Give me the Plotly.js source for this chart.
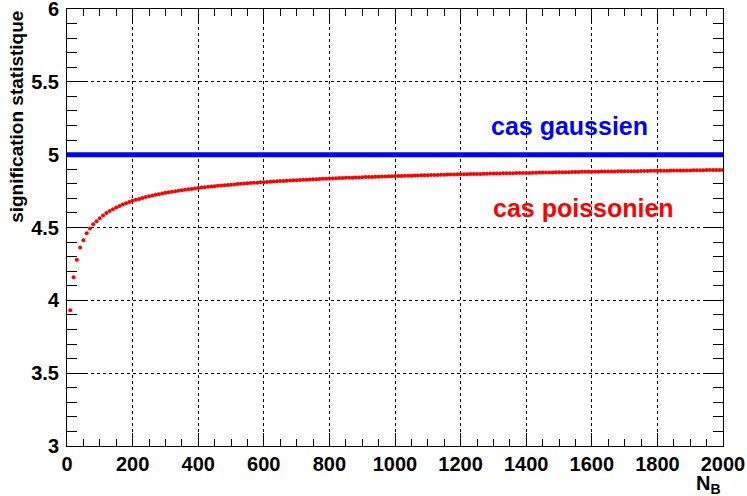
<!DOCTYPE html>
<html>
<head>
<meta charset="utf-8">
<script src="https://cdn.plot.ly/plotly-3.0.1.min.js"></script>
<style>html,body{margin:0;padding:0;background:#fff;}#chart{width:747px;height:496px;}</style>
</head>
<body>
<div id="chart"></div>
<script>
// Background count N_B for each red point
const nB = [
  10,20,30,40,50,60,70,80,90,100,110,120,130,140,150,160,170,180,190,200,
  210,220,230,240,250,260,270,280,290,300,310,320,330,340,350,360,370,380,390,400,
  410,420,430,440,450,460,470,480,490,500,510,520,530,540,550,560,570,580,590,600,
  610,620,630,640,650,660,670,680,690,700,710,720,730,740,750,760,770,780,790,800,
  810,820,830,840,850,860,870,880,890,900,910,920,930,940,950,960,970,980,990,1000,
  1010,1020,1030,1040,1050,1060,1070,1080,1090,1100,1110,1120,1130,1140,1150,1160,1170,1180,1190,1200,
  1210,1220,1230,1240,1250,1260,1270,1280,1290,1300,1310,1320,1330,1340,1350,1360,1370,1380,1390,1400,
  1410,1420,1430,1440,1450,1460,1470,1480,1490,1500,1510,1520,1530,1540,1550,1560,1570,1580,1590,1600,
  1610,1620,1630,1640,1650,1660,1670,1680,1690,1700,1710,1720,1730,1740,1750,1760,1770,1780,1790,1800,
  1810,1820,1830,1840,1850,1860,1870,1880,1890,1900,1910,1920,1930,1940,1950,1960,1970,1980,1990,2000
];
// Poisson ("cas poissonien") significance
const zPoisson = [
  3.932,4.158,4.278,4.362,4.413,4.460,4.493,4.522,4.543,4.564,4.582,4.599,4.613,4.626,4.637,4.648,4.658,4.667,4.675,4.683,
  4.690,4.696,4.703,4.709,4.714,4.719,4.724,4.729,4.733,4.738,4.742,4.746,4.749,4.753,4.756,4.759,4.762,4.765,4.768,4.771,
  4.774,4.776,4.779,4.781,4.784,4.786,4.788,4.790,4.792,4.794,4.796,4.798,4.800,4.802,4.803,4.805,4.807,4.808,4.810,4.811,
  4.813,4.814,4.816,4.817,4.819,4.820,4.821,4.822,4.824,4.825,4.826,4.827,4.828,4.829,4.831,4.832,4.833,4.834,4.835,4.836,
  4.837,4.838,4.839,4.840,4.841,4.841,4.842,4.843,4.844,4.845,4.846,4.847,4.847,4.848,4.849,4.850,4.850,4.851,4.852,4.853,
  4.853,4.854,4.855,4.855,4.856,4.857,4.857,4.858,4.859,4.859,4.860,4.861,4.861,4.862,4.862,4.863,4.864,4.864,4.865,4.865,
  4.866,4.866,4.867,4.867,4.868,4.868,4.869,4.869,4.870,4.870,4.871,4.871,4.872,4.872,4.873,4.873,4.874,4.874,4.875,4.875,
  4.875,4.876,4.876,4.877,4.877,4.877,4.878,4.878,4.879,4.879,4.879,4.880,4.880,4.881,4.881,4.881,4.882,4.882,4.882,4.883,
  4.883,4.883,4.884,4.884,4.885,4.885,4.885,4.886,4.886,4.886,4.887,4.887,4.887,4.887,4.888,4.888,4.888,4.889,4.889,4.889,
  4.890,4.890,4.890,4.891,4.891,4.891,4.891,4.892,4.892,4.892,4.893,4.893,4.893,4.893,4.894,4.894,4.894,4.894,4.895,4.895
];
// Gaussian ("cas gaussien") significance: constant line
const gaussX = [0, 2000];
const gaussY = [5, 5];

const xTicks = [0,200,400,600,800,1000,1200,1400,1600,1800,2000];
const yTicks = [3,3.5,4,4.5,5,5.5,6];
const yTickText = ['3','3.5','4','4.5','5','5.5','6'];

const labelGauss = 'cas gaussien';
const labelPoisson = 'cas poissonien';
const yTitle = 'signification statistique';
const xTitle = 'N<sub>B</sub>';

const FONT = 'Liberation Sans, Arial, Helvetica, sans-serif';

const traces = [
  {x: gaussX, y: gaussY, mode: 'lines', line: {color: '#0000ff', width: 5}, hoverinfo: 'skip', showlegend: false, cliponaxis: false},
  {x: nB, y: zPoisson, mode: 'markers', marker: {color: '#ff0000', size: 4, symbol: 'circle', line: {width: 0}}, showlegend: false}
];

const axisCommon = {
  showline: true, linecolor: '#000', linewidth: 1, mirror: 'ticks',
  ticks: 'inside', tickcolor: '#000', tickwidth: 1,
  showgrid: true, gridcolor: '#000', gridwidth: 1, griddash: 'dot',
  zeroline: false, layer: 'below traces',
  ticklabeloverflow: 'allow',
  tickfont: {family: FONT, size: 20, color: '#000', weight: 'bold'}
};

const layout = {
  width: 747, height: 496,
  margin: {l: 67, r: 24, t: 9, b: 50, pad: 0},
  paper_bgcolor: '#fff', plot_bgcolor: '#fff',
  showlegend: false,
  xaxis: Object.assign({}, axisCommon, {
    range: [0, 2000], tickmode: 'array', tickvals: xTicks, ticktext: xTicks.map(String),
    ticklen: 13,
    minor: {dtick: 50, ticklen: 7, tickcolor: '#000', ticks: 'inside', showgrid: false}
  }),
  yaxis: Object.assign({}, axisCommon, {
    range: [3, 6], tickmode: 'array', tickvals: yTicks, ticktext: yTickText,
    ticklen: 20, ticklabelstandoff: 3,
    minor: {dtick: 0.1, ticklen: 10, tickcolor: '#000', ticks: 'inside', showgrid: false}
  }),
  annotations: [
    {text: labelGauss, xref: 'x', yref: 'y', x: 1531, y: 5.195, showarrow: false,
     xanchor: 'center', yanchor: 'middle',
     font: {family: FONT, size: 25, color: '#0000ff', weight: 'bold'}},
    {text: labelPoisson, xref: 'x', yref: 'y', x: 1575, y: 4.636, showarrow: false,
     xanchor: 'center', yanchor: 'middle',
     font: {family: FONT, size: 25, color: '#ff0000', weight: 'bold'}},
    {text: yTitle, xref: 'paper', yref: 'paper', x: -0.078, y: 1.0, textangle: -90,
     showarrow: false, xanchor: 'center', yanchor: 'top',
     font: {family: FONT, size: 19, color: '#000', weight: 'bold'}},
    {text: xTitle, xref: 'paper', yref: 'paper', x: 1.0, y: -0.055, showarrow: false,
     xanchor: 'right', yanchor: 'top',
     font: {family: FONT, size: 20, color: '#000', weight: 'bold'}}
  ]
};

Plotly.newPlot('chart', traces, layout, {displayModeBar: false, staticPlot: true});
</script>
</body>
</html>
